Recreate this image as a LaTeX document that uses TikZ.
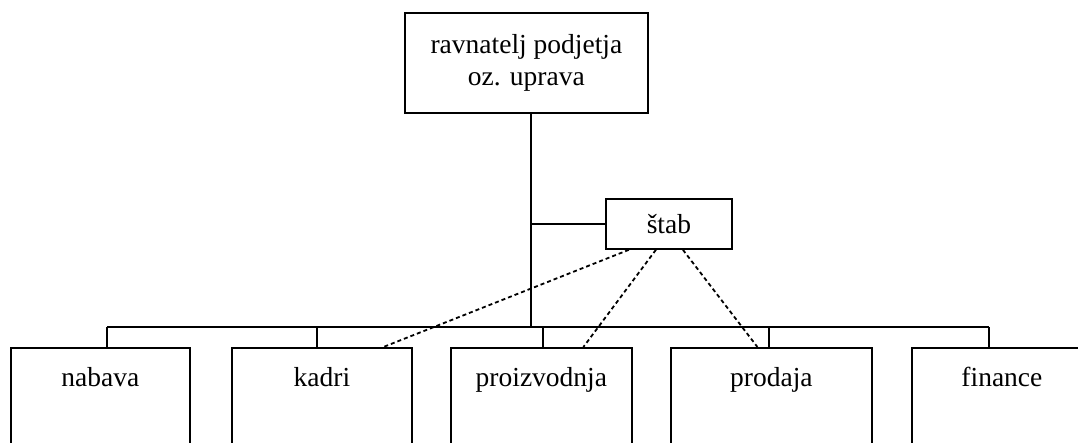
\documentclass[tikz,border=0pt]{standalone}
\usepackage{fontspec}
\setmainfont{Liberation Serif}
\begin{document}
\begin{tikzpicture}[x=1pt,y=-1pt,
  unit/.style={draw, line width=1.8pt, inner sep=0pt, anchor=north west},
  link/.style={line width=1.8pt},
  staff/.style={line width=1.8pt, dash pattern=on 4pt off 3pt},
  lbl/.style={anchor=base, inner sep=0pt},
  font=\fontsize{27.5}{32}\selectfont]
\useasboundingbox (0,0) rectangle (1078,443);

% management and staff
\node[unit, minimum width=243pt, minimum height=100pt, align=center] (top) at (404,12)
  {ravnatelj podjetja\\oz. uprava};
\node[unit, minimum width=126pt, minimum height=50pt] (stab) at (605,198) {štab};

% departments
\node[unit, minimum width=179pt, minimum height=120pt] (nab) at (10,347) {};
\node[unit, minimum width=180pt, minimum height=120pt] (kad) at (231,347) {};
\node[unit, minimum width=181pt, minimum height=120pt] (pro) at (450,347) {};
\node[unit, minimum width=201pt, minimum height=120pt] (prd) at (670,347) {};
\node[unit, minimum width=180pt, minimum height=120pt] (fin) at (911,347) {};

\node[lbl] (nab-t) at ([yshift=-39pt]nab.north) {nabava};
\node[lbl] (kad-t) at ([yshift=-39pt]kad.north) {kadri};
\node[lbl] (pro-t) at ([yshift=-39pt]pro.north) {proizvodnja};
\node[lbl] (prd-t) at ([yshift=-39pt]prd.north) {prodaja};
\node[lbl] (fin-t) at ([yshift=-39pt]fin.north) {finance};

% line organisation
\coordinate (trunk) at (531,327);
\coordinate (bus-l) at (107,327);
\coordinate (bus-r) at (989,327);
\draw[link] (top.south -| trunk) -- (trunk);
\draw[link] (trunk |- stab.west) -- (stab.west);
\draw[link] (bus-l) -- (bus-r);
\foreach \n/\x in {nab/107, kad/317, pro/543, prd/769, fin/989} {
  \coordinate (tap-\n) at (\x,327);
  \draw[link] (tap-\n) -- (tap-\n |- \n.north);
}

% staff links
\draw[staff] ([xshift=-40pt]stab.south) -- ([xshift=61.5pt]kad.north);
\draw[staff] ([xshift=-13pt]stab.south) -- ([xshift=42pt]pro.north);
\draw[staff] ([xshift=14pt]stab.south) -- ([xshift=-14pt]prd.north);
\end{tikzpicture}
\end{document}
